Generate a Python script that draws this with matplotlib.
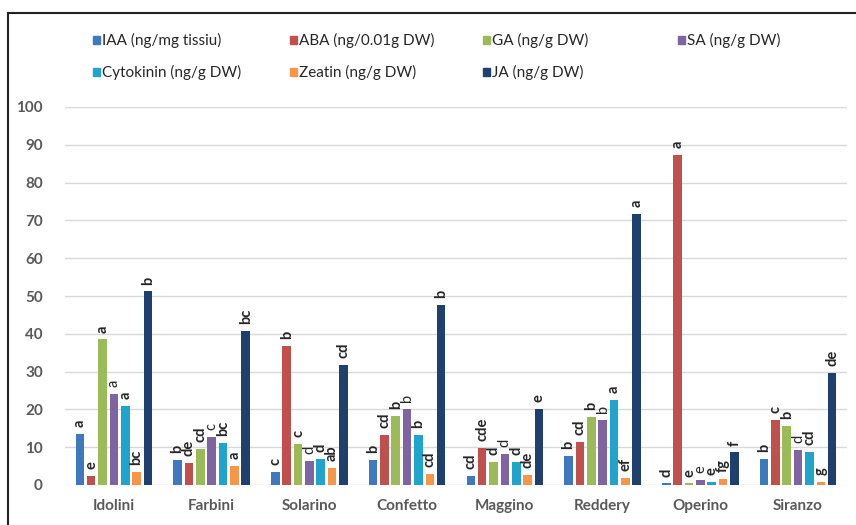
import matplotlib
matplotlib.use("Agg")
import matplotlib.pyplot as plt
import numpy as np
from matplotlib.lines import Line2D
from matplotlib.patches import Rectangle

categories = ["Idolini", "Farbini", "Solarino", "Confetto", "Maggino", "Reddery", "Operino", "Siranzo"]
series_names = ["IAA (ng/mg tissiu)", "ABA (ng/0.01g DW)", "GA (ng/g DW)", "SA (ng/g DW)",
                "Cytokinin (ng/g DW)", "Zeatin (ng/g DW)", "JA (ng/g DW)"]
iaa = [13.5, 6.7, 3.5, 6.7, 2.5, 7.7, 0.4, 6.9]
aba = [2.5, 5.8, 36.8, 13.2, 9.8, 11.4, 87.3, 17.2]
ga = [38.5, 9.6, 10.8, 18.3, 6.2, 18.0, 0.4, 15.5]
sa = [24.0, 12.7, 6.3, 20.0, 8.2, 17.2, 1.4, 9.2]
cyt = [20.8, 11.0, 7.0, 13.3, 6.1, 22.5, 0.7, 8.8]
zeatin = [3.5, 5.0, 4.4, 3.0, 2.6, 1.9, 1.5, 0.9]
ja = [51.2, 40.7, 31.7, 47.6, 20.0, 71.7, 8.6, 29.7]

lab_iaa = ["a", "b", "c", "b", "cd", "b", "d", "b"]
lab_aba = ["e", "de", "b", "cd", "cde", "cd", "a", "c"]
lab_ga = ["a", "cd", "c", "b", "d", "b", "e", "b"]
lab_sa = ["a", "c", "d", "b", "d", "b", "e", "d"]
lab_cyt = ["a", "bc", "d", "b", "d", "a", "e", "cd"]
lab_zeatin = ["bc", "a", "ab", "cd", "de", "ef", "fg", "g"]
lab_ja = ["b", "bc", "cd", "b", "e", "a", "f", "de"]

yticks = [0, 10, 20, 30, 40, 50, 60, 70, 80, 90, 100]

series = [iaa, aba, ga, sa, cyt, zeatin, ja]
labels = [lab_iaa, lab_aba, lab_ga, lab_sa, lab_cyt, lab_zeatin, lab_ja]
colors = ["#3E79C0", "#C0504D", "#9BBB59", "#8064A2", "#1FA4CB", "#F79646", "#1F3F6E"]

plt.rcParams['font.family'] = ['Lato', 'DejaVu Sans']

fig = plt.figure(figsize=(8.56, 5.25), dpi=100)
ax = fig.add_axes([65/856, 1-485/525, (847-65)/856, (485-107)/525])

x = np.arange(len(categories))
step = 0.116
width = 0.088
for i, (vals, labs, col) in enumerate(zip(series, labels, colors)):
    pos = x + (i - 3) * step
    ax.bar(pos, vals, width=width, color=col, zorder=3, label=series_names[i])
    for p, v, l in zip(pos, vals, labs):
        ax.annotate(l, (p, v), xytext=(0, 5), textcoords="offset points",
                    rotation=90, ha="center", va="bottom", fontsize=10.5,
                    fontweight=("normal" if i == 3 else "bold"), color="#262626")

ax.set_xlim(-0.5, len(categories) - 0.5)
ax.set_ylim(0, 100)
ax.set_yticks(yticks)
ax.set_xticks(x)
ax.set_xticklabels(categories)
ax.tick_params(axis="both", length=0, labelsize=11, labelcolor="#595959")
ax.tick_params(axis="x", pad=10)
ax.tick_params(axis="y", pad=16)
for t in ax.get_xticklabels() + ax.get_yticklabels():
    t.set_fontweight("bold")
for s in ax.spines.values():
    s.set_visible(False)
ax.yaxis.grid(True, color="#D9D9D9", linewidth=1, zorder=0)
ax.set_axisbelow(True)

# legend (two rows, four columns)
leg_x = [93, 290, 483, 678, 93, 290, 483]
leg_y = [40, 40, 40, 40, 72, 72, 72]
for name, col, lx, ly in zip(series_names, colors, leg_x, leg_y):
    fig.patches.append(Rectangle((lx/856, 1-(ly+4)/525), 7/856, 8/525,
                                 transform=fig.transFigure, color=col))
    fig.text((lx+9)/856, 1-ly/525, name, fontsize=11, color="#262626",
             va="center", ha="left")

# chart frame
fig.lines.append(Line2D([8/856, 8/856], [0, 1-13/525], transform=fig.transFigure,
                        color="#222222", linewidth=1.5))
fig.lines.append(Line2D([8/856, 1], [1-13/525, 1-13/525], transform=fig.transFigure,
                        color="#222222", linewidth=1.5))

fig.savefig("out.png", dpi=100)
